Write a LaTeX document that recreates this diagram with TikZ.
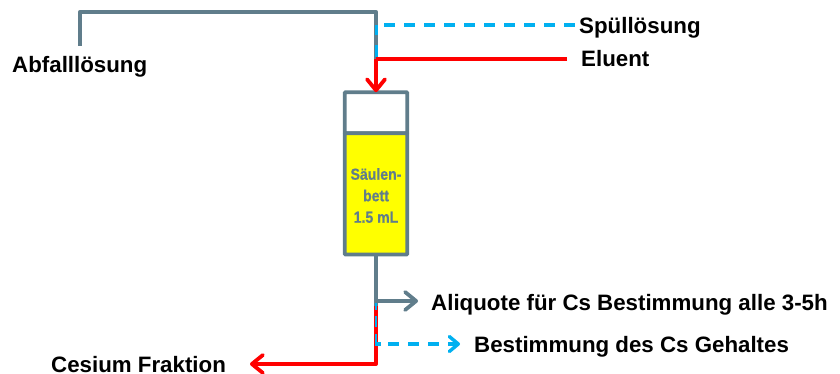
\documentclass[tikz,border=0pt]{standalone}
\usepackage{fontspec}
\setmainfont{Liberation Sans}
\newfontfamily\narrowbold[FakeStretch=0.88,FakeBold=0.6]{Liberation Sans Bold}
\usetikzlibrary{arrows.meta}
\definecolor{pipe}{RGB}{96,125,139}
\definecolor{cyanl}{RGB}{0,176,240}
\definecolor{redl}{RGB}{255,0,0}
\definecolor{bedyellow}{RGB}{255,255,0}
\tikzset{
 lab/.style={font=\fontsize{22.3}{24}\selectfont\bfseries,text=black,inner sep=0pt,anchor=base west},
 pipeline/.style={draw=pipe,line width=3.8pt,line join=round},
 redline/.style={draw=redl,line width=4pt,line join=round},
 blueline/.style={draw=cyanl,line width=3.4pt,dash pattern=on 11pt off 9pt},
 opentip/.style={-{Straight Barb[length=11pt,width=18pt,line width=3.8pt,round]}},
 bluetipstyle/.style={-{Straight Barb[length=9pt,width=15pt,line width=3.4pt,round]}},
 colbox/.style={draw=pipe,line width=3.8pt,rounded corners=0.8pt,inner sep=0pt,outer sep=0pt},
}
\begin{document}
\begin{tikzpicture}[x=1pt,y=-1pt]
\useasboundingbox (0,0) rectangle (840,374);
% column
\node[colbox,fill=white,minimum width=62.6pt,minimum height=41pt,anchor=north west] (head) at (344.7,92.2) {};
\node[colbox,fill=bedyellow,minimum width=62.6pt,minimum height=121.2pt,anchor=north west] (bed) at (344.7,133.2) {};
\node[align=center,inner sep=0pt,font=\narrowbold\fontsize{16}{21.5}\selectfont,text=pipe] (bedtext) at (376,195.5) {S\"aulen-\\bett\\1.5 mL};
% coordinates
\coordinate (wasteend) at (80,46);
\coordinate (topleft) at (80,11.8);
\coordinate (topright) at (376,11.8);
\coordinate (redj) at (376,59);
\coordinate (bluej) at (376,25);
\coordinate (aliquotj) at (376,301);
\coordinate (redstart) at (376,306);
\coordinate (redcorner) at (376,364);
\coordinate (grayend) at (376,306);
\coordinate (aliquottip) at (418,301);
\coordinate (fractip) at (250,364);
\coordinate (bluetip) at (460,344);
% labels
\node[lab] (spuel) at (579,33.5) {Sp\"ull\"osung};
\node[lab] (eluent) at (581,67) {Eluent};
\node[lab] (abfall) at (12,73) {Abfalll\"osung};
\node[lab] (aliquot) at (431,310) {Aliquote f\"ur Cs Bestimmung alle 3-5h};
\node[lab] (bestimm) at (474,352) {Bestimmung des Cs Gehaltes};
\node[lab] (cesium) at (51,372.5) {Cesium Fraktion};
% top pipe
\draw[pipeline] (wasteend) -- (topleft) -- (topright) -- (redj);
\draw[draw=cyanl,line width=3pt] (376,25) -- (376,35) (376,45) -- (376,57);
\draw[blueline] (384,25) -- (spuel.west |- bluej);
\draw[redline] (eluent.west |- redj) ++(-14,0) -- (redj);
\draw[redline,opentip] (redj) -- (head.north -| redj);
% bottom pipe
\draw[pipeline] (bed.south -| redj) -- (grayend);
\draw[pipeline,opentip] (aliquotj) -- (aliquottip);
\draw[redline,opentip] (redstart) -- (redcorner) -- (fractip);
\draw[draw=cyanl,line width=2.6pt] (376,303) -- (376,310) (376,316) -- (376,327) (376,334) -- (376,345);
\draw[draw=cyanl,line width=3.4pt] (375,344) -- (381,344);
\draw[blueline,bluetipstyle] (388,344) -- (bluetip);
\end{tikzpicture}
\end{document}
